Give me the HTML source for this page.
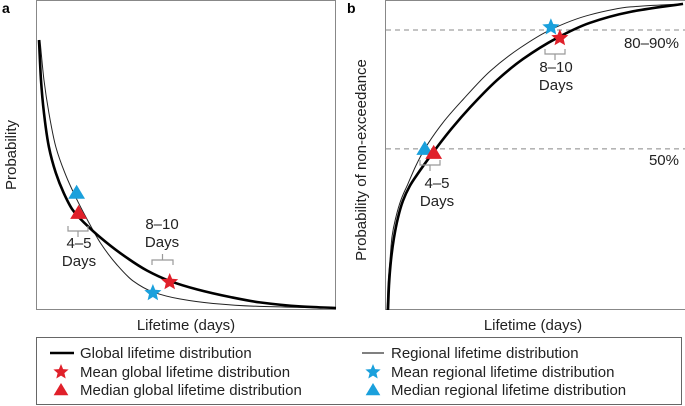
<!DOCTYPE html>
<html><head><meta charset="utf-8"><style>
body{margin:0;background:#fff;}
svg{display:block;font-family:"Liberation Sans",sans-serif;}
</style></head><body>
<svg id="fig" width="685" height="406" viewBox="0 0 685 406">
<g id="pa"></g>
<g id="pb"></g>
<g id="leg"></g>
</svg>
<script>
// Panel a: probability density (days, probability 0-1)
const aGlobalX=[0,0.2,0.5,1.0,1.7,2.5,3.4,4.8,6.2,8.2,10.9,13.2,16.0,19.3,22.3,26.4,30];
const aGlobalY=[1.0,0.851,0.728,0.601,0.504,0.429,0.366,0.310,0.263,0.205,0.14,0.101,0.069,0.041,0.021,0.006,0];
const aRegionalX=[0.1,0.5,1.0,1.7,2.7,3.7,4.9,6.2,7.9,9.5,11.5,14.2,17.6,22.3,30];
const aRegionalY=[1.0,0.851,0.728,0.601,0.496,0.414,0.328,0.243,0.160,0.101,0.06,0.034,0.017,0.006,0];
const aMarkersX=[3.8,4.0,13.2,11.5];
const aMarkersY=[0.43,0.355,0.097,0.056];
// Panel b: probability of non-exceedance
const bGlobalX=[0.1,0.2,0.4,0.7,1.1,1.6,2.3,3.0,4.6,6.3,8.4,11.1,13.7,17.1,20.4,24.5,29.8];
const bGlobalY=[0,0.081,0.162,0.234,0.299,0.354,0.403,0.438,0.51,0.581,0.659,0.747,0.815,0.883,0.932,0.968,0.994];
const bRegionalX=[0,0.1,0.3,0.5,0.9,1.4,2.1,2.9,3.8,5.6,7.7,10.4,13.4,16.4,20.4,24.5,29.8];
const bRegionalY=[0,0.081,0.162,0.237,0.302,0.357,0.409,0.468,0.523,0.607,0.685,0.776,0.851,0.909,0.958,0.984,0.994];
const bMarkersX=[3.8,4.7,17.4,16.5];
const bMarkersY=[0.523,0.51,0.883,0.918];
const bRefLines=[0.909,0.523];
const markerKinds=['tri-blue','tri-red','star-red','star-blue'];

const NS='http://www.w3.org/2000/svg';
function mk(parent,tag,attrs,name,text){const e=document.createElementNS(NS,tag);for(const k in attrs)e.setAttribute(k,attrs[k]);


if(text!==undefined)e.textContent=text;parent.appendChild(e);return e;}
// monotone cubic (in x) path
function spline(p){const n=p.length;const dx=[],s=[];for(let i=0;i<n-1;i++){dx.push(Math.max(p[i+1][0]-p[i][0],1e-6));s.push((p[i+1][1]-p[i][1])/dx[i]);}
const m=new Array(n);m[0]=s[0];m[n-1]=s[n-2];for(let i=1;i<n-1;i++){if(s[i-1]*s[i]<=0)m[i]=0;else{const w1=2*dx[i]+dx[i-1],w2=dx[i]+2*dx[i-1];m[i]=(w1+w2)/(w1/s[i-1]+w2/s[i]);}}
let d='M'+p[0][0].toFixed(2)+','+p[0][1].toFixed(2);for(let i=0;i<n-1;i++){const h=dx[i]/3;d+=' C'+(p[i][0]+h).toFixed(2)+','+(p[i][1]+m[i]*h).toFixed(2)+' '+(p[i+1][0]-h).toFixed(2)+','+(p[i+1][1]-m[i+1]*h).toFixed(2)+' '+p[i+1][0].toFixed(2)+','+p[i+1][1].toFixed(2);}return d;}
function star(cx,cy,r){let p=[];for(let i=0;i<10;i++){const a=-Math.PI/2+i*Math.PI/5,rr=i%2?r*0.45:r;p.push((cx+rr*Math.cos(a)).toFixed(1)+','+(cy+rr*Math.sin(a)).toFixed(1));}return p.join(' ');}
function tri(cx,cy,r){return (cx)+','+(cy-r)+' '+(cx-r*1.05)+','+(cy+r*0.75)+' '+(cx+r*1.05)+','+(cy+r*0.75);}
function marker(g,kind,x,y){const col=kind.indexOf('red')>=0?'#e0202a':'#1aa0dc';
if(kind.startsWith('star'))mk(g,'polygon',{points:star(x,y,9),fill:col},kind==='star-red'?'mean-global-marker':'mean-regional-marker');
else mk(g,'polygon',{points:tri(x,y,8),fill:col},kind==='tri-red'?'median-global-marker':'median-regional-marker');}
function bracket(g,x1,x2,y,up,name){const m=(x1+x2)/2;const d=up?`M${x1},${y+5} V${y} H${x2} V${y+5} M${m},${y} V${y-6}`:`M${x1},${y} V${y+5} H${x2} V${y} M${m},${y+5} V${y+11}`;
mk(g,'path',{d:d,stroke:'#999',fill:'none','stroke-width':1.2},name);}

// Panel a
(function(){const g=document.getElementById('pa');
const X=d=>39+d/30*297, Y=v=>308-v*268;
mk(g,'rect',{x:36.5,y:0.5,width:299,height:309,fill:'none',stroke:'#888','stroke-width':1},'panel-a-frame');
mk(g,'text',{x:2,y:13,'font-size':14,'font-weight':'bold'},'panel-a-label','a');
mk(g,'text',{x:16,y:155,'font-size':15,'text-anchor':'middle',transform:'rotate(-90 16 155)',fill:'#222'},'y-axis-title-a','Probability');
mk(g,'text',{x:186,y:330,'font-size':15,'text-anchor':'middle',fill:'#222'},'x-axis-title-a','Lifetime (days)');
mk(g,'path',{d:spline(aRegionalX.map((x,i)=>[X(x),Y(aRegionalY[i])])),stroke:'#222',fill:'none','stroke-width':1},'regional-curve-a');
mk(g,'path',{d:spline(aGlobalX.map((x,i)=>[X(x),Y(aGlobalY[i])])),stroke:'#000',fill:'none','stroke-width':2.6},'global-curve-a');
bracket(g,68,88,226,false,'bracket-4-5-a');
mk(g,'text',{x:79,y:248,'font-size':15,'text-anchor':'middle',fill:'#222'},'label-4-5-a','4–5');
mk(g,'text',{x:79,y:266,'font-size':15,'text-anchor':'middle',fill:'#222'},'label-days-a1','Days');
mk(g,'text',{x:162,y:229,'font-size':15,'text-anchor':'middle',fill:'#222'},'label-8-10-a','8–10');
mk(g,'text',{x:162,y:247,'font-size':15,'text-anchor':'middle',fill:'#222'},'label-days-a2','Days');
bracket(g,152,173,260,true,'bracket-8-10-a');
aMarkersX.forEach((x,i)=>marker(g,markerKinds[i],X(x),Y(aMarkersY[i])));
})();

// Panel b
(function(){const g=document.getElementById('pb');
const X=d=>387+d/30*298, Y=v=>310-v*308;
mk(g,'rect',{x:385.5,y:0.5,width:300,height:309,fill:'none',stroke:'#888','stroke-width':1},'panel-b-frame');
mk(g,'text',{x:347,y:13,'font-size':14,'font-weight':'bold'},'panel-b-label','b');
mk(g,'text',{x:366,y:160,'font-size':15,'text-anchor':'middle',transform:'rotate(-90 366 160)',fill:'#222'},'y-axis-title-b','Probability of non-exceedance');
mk(g,'text',{x:533,y:330,'font-size':15,'text-anchor':'middle',fill:'#222'},'x-axis-title-b','Lifetime (days)');
bRefLines.forEach((v,i)=>mk(g,'line',{x1:386,x2:685,y1:Y(v),y2:Y(v),stroke:'#888','stroke-dasharray':'5,4','stroke-width':1},'reference-line-'+i));
mk(g,'text',{x:679,y:48,'font-size':15,'text-anchor':'end',fill:'#222'},'label-80-90','80–90%');
mk(g,'text',{x:679,y:165,'font-size':15,'text-anchor':'end',fill:'#222'},'label-50','50%');
mk(g,'path',{d:spline(bRegionalX.map((x,i)=>[X(x),Y(bRegionalY[i])])),stroke:'#222',fill:'none','stroke-width':1},'regional-curve-b');
mk(g,'path',{d:spline(bGlobalX.map((x,i)=>[X(x),Y(bGlobalY[i])])),stroke:'#000',fill:'none','stroke-width':2.6},'global-curve-b');
bracket(g,420,440,160,false,'bracket-4-5-b');
mk(g,'text',{x:437,y:188,'font-size':15,'text-anchor':'middle',fill:'#222'},'label-4-5-b','4–5');
mk(g,'text',{x:437,y:206,'font-size':15,'text-anchor':'middle',fill:'#222'},'label-days-b1','Days');
bracket(g,545,565,49,false,'bracket-8-10-b');
mk(g,'text',{x:556,y:72,'font-size':15,'text-anchor':'middle',fill:'#222'},'label-8-10-b','8–10');
mk(g,'text',{x:556,y:90,'font-size':15,'text-anchor':'middle',fill:'#222'},'label-days-b2','Days');
bMarkersX.forEach((x,i)=>marker(g,markerKinds[i],X(x),Y(bMarkersY[i])));
})();

// Legend
(function(){const g=document.getElementById('leg');
mk(g,'rect',{x:36.5,y:337.5,width:645,height:67,fill:'none',stroke:'#666','stroke-width':1},'legend-box');
const rows=[353,372,390];
mk(g,'line',{x1:50,x2:74,y1:rows[0],y2:rows[0],stroke:'#000','stroke-width':2.6},'legend-global-line');
mk(g,'text',{x:80,y:rows[0]+5,'font-size':15,fill:'#222'},'legend-entry-global','Global lifetime distribution');
mk(g,'polygon',{points:star(61,rows[1],8),fill:'#e0202a'},'legend-mean-global-icon');
mk(g,'text',{x:80,y:rows[1]+5,'font-size':15,fill:'#222'},'legend-entry-mean-global','Mean global lifetime distribution');
mk(g,'polygon',{points:tri(61,rows[2],7),fill:'#e0202a'},'legend-median-global-icon');
mk(g,'text',{x:80,y:rows[2]+5,'font-size':15,fill:'#222'},'legend-entry-median-global','Median global lifetime distribution');
mk(g,'line',{x1:362,x2:384,y1:rows[0],y2:rows[0],stroke:'#000','stroke-width':1},'legend-regional-line');
mk(g,'text',{x:391,y:rows[0]+5,'font-size':15,fill:'#222'},'legend-entry-regional','Regional lifetime distribution');
mk(g,'polygon',{points:star(373,rows[1],8),fill:'#1aa0dc'},'legend-mean-regional-icon');
mk(g,'text',{x:391,y:rows[1]+5,'font-size':15,fill:'#222'},'legend-entry-mean-regional','Mean regional lifetime distribution');
mk(g,'polygon',{points:tri(373,rows[2],7),fill:'#1aa0dc'},'legend-median-regional-icon');
mk(g,'text',{x:391,y:rows[2]+5,'font-size':15,fill:'#222'},'legend-entry-median-regional','Median regional lifetime distribution');
})();
</script>
</body></html>
